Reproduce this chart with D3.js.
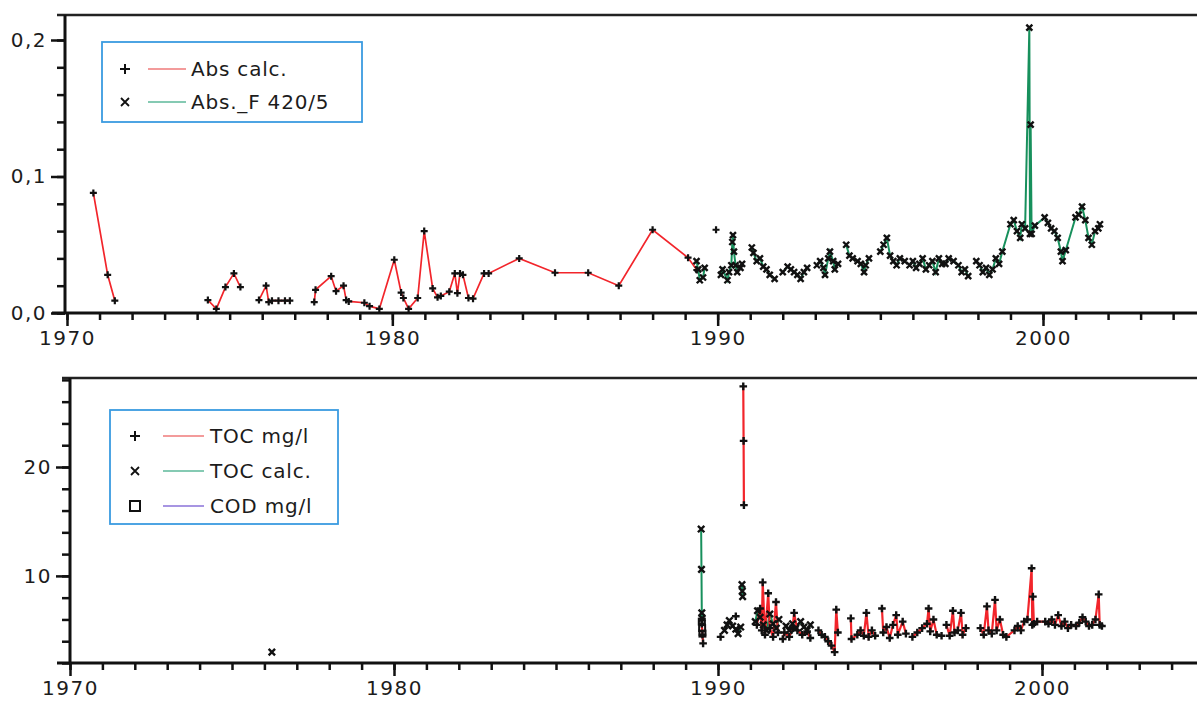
<!DOCTYPE html>
<html>
<head>
<meta charset="utf-8">
<script src="https://cdn.jsdelivr.net/npm/d3@7"></script>
<style>
  body { margin: 0; background: #fff; }
  text { font-family: "DejaVu Sans", sans-serif; fill: #1c1c1c; }
</style>
</head>
<body>
<div id="chart"></div>
<script>
// ---- data (null = break in the line) ----
// upper panel: absorbance
const absCalcYears = [1970.81, 1971.25, 1971.47, null, 1974.33, 1974.59, 1974.87, 1975.13, 1975.33, null,
  1975.9, 1976.12, 1976.2, 1976.3, 1976.5, 1976.7, 1976.85, null,
  1977.6, 1977.64, 1978.12, 1978.27, 1978.5, 1978.58, 1978.66, 1979.14, 1979.3, 1979.6, 1980.06,
  1980.27, 1980.34, 1980.5, 1980.78, 1980.98, 1981.24, 1981.39, 1981.49, 1981.75, 1981.92, 1982.0,
  1982.08, 1982.17, 1982.34, 1982.48, 1982.82, 1982.96, 1983.9, 1985.0, 1986.02, 1986.96, 1988.0,
  1989.09, 1989.36, null, 1989.95];
const absCalcValues = [0.088, 0.028, 0.009, null, 0.0095, 0.003, 0.019, 0.029, 0.019, null,
  0.0095, 0.02, 0.008, 0.009, 0.009, 0.009, 0.009, null,
  0.008, 0.017, 0.027, 0.016, 0.02, 0.0095, 0.0085, 0.0075, 0.005, 0.003, 0.039,
  0.015, 0.011, 0.003, 0.011, 0.060, 0.018, 0.0115, 0.0125, 0.0156, 0.029, 0.0145,
  0.029, 0.028, 0.011, 0.0105, 0.029, 0.029, 0.040, 0.0295, 0.0295, 0.020, 0.061,
  0.0405, 0.0315, null, 0.061];

const absFYears = [1989.35, 1989.4, 1989.45, 1989.55, 1989.6, null,
  1990.1, 1990.15, 1990.3, 1990.35, 1990.42, 1990.45, 1990.47, 1990.5, 1990.55, 1990.6, 1990.7, 1990.75, null,
  1991.05, 1991.1, 1991.2, 1991.3, 1991.4, 1991.5, 1991.6, 1991.75, null,
  1992.0, 1992.15, 1992.25, 1992.35, 1992.45, 1992.55, 1992.65, 1992.75, null,
  1993.05, 1993.15, 1993.25, 1993.3, 1993.4, 1993.45, 1993.55, 1993.6, 1993.7, null,
  1993.95, 1994.05, 1994.15, 1994.3, 1994.4, 1994.5, 1994.55, 1994.65, null,
  1995.0, 1995.1, 1995.2, 1995.3, 1995.4, 1995.5, 1995.6, 1995.75, null,
  1995.9, 1996.0, 1996.1, 1996.2, 1996.3, 1996.4, 1996.5, 1996.6, 1996.7, 1996.8, 1996.9, null,
  1997.0, 1997.1, 1997.25, 1997.4, 1997.5, 1997.6, 1997.7, null,
  1997.95, 1998.05, 1998.15, 1998.25, 1998.35, 1998.45, 1998.55, 1998.65, 1998.75,
  1999.0, 1999.1, 1999.2, 1999.3, 1999.35, 1999.45, 1999.58, 1999.6, 1999.62, 1999.65, 1999.75,
  2000.05, 2000.15, 2000.25, 2000.35, 2000.45, 2000.55, 2000.6, 2000.7,
  2001.0, 2001.1, 2001.2, 2001.3, 2001.4, 2001.5, 2001.6, 2001.7, 2001.75];
const absFValues = [0.038, 0.032, 0.024, 0.026, 0.033, null,
  0.028, 0.032, 0.024, 0.03, 0.035, 0.052, 0.057, 0.045, 0.035, 0.03, 0.033, 0.036, null,
  0.048, 0.044, 0.038, 0.04, 0.034, 0.032, 0.028, 0.025, null,
  0.03, 0.034, 0.032, 0.03, 0.028, 0.025, 0.03, 0.033, null,
  0.035, 0.038, 0.033, 0.028, 0.04, 0.045, 0.038, 0.032, 0.036, null,
  0.05, 0.042, 0.04, 0.038, 0.036, 0.03, 0.035, 0.04, null,
  0.045, 0.05, 0.055, 0.042, 0.038, 0.035, 0.04, 0.038, null,
  0.035, 0.038, 0.033, 0.036, 0.04, 0.032, 0.035, 0.038, 0.03, 0.04, 0.036, null,
  0.036, 0.04, 0.038, 0.035, 0.03, 0.032, 0.027, null,
  0.038, 0.035, 0.03, 0.033, 0.028, 0.032, 0.04, 0.036, 0.045,
  0.065, 0.068, 0.06, 0.055, 0.065, 0.062, 0.209, 0.058, 0.138, 0.058, 0.064,
  0.07, 0.066, 0.062, 0.06, 0.055, 0.045, 0.038, 0.046,
  0.07, 0.072, 0.078, 0.068, 0.055, 0.05, 0.06, 0.062, 0.065];

// lower panel: organic carbon
const tocYears = [1989.5, 1989.52, 1989.54, null, 1990.08, null, 1990.55, null,
  1990.78, 1990.79, 1990.8, null,
  1991.2, 1991.3, 1991.35, 1991.38, 1991.45, 1991.55, 1991.6, 1991.7, 1991.79, 1991.85, null,
  1992.0, 1992.05, 1992.2, 1992.3, 1992.35, 1992.45, 1992.6, 1992.75, 1992.85, null,
  1993.1, 1993.2, 1993.3, 1993.4, 1993.5, 1993.6, 1993.65, 1993.7, null,
  1994.1, 1994.12, 1994.3, 1994.4, 1994.5, 1994.58, 1994.65, 1994.75, 1994.85, null,
  1995.06, 1995.1, 1995.2, 1995.3, 1995.4, 1995.5, 1995.55, 1995.7, 1995.8, null,
  1996.0, 1996.15, 1996.3, 1996.45, 1996.5, 1996.55, 1996.65, 1996.75, 1996.9, null,
  1997.05, 1997.15, 1997.25, 1997.3, 1997.4, 1997.5, 1997.55, 1997.65, null,
  1998.1, 1998.2, 1998.3, 1998.35, 1998.45, 1998.55, 1998.6, 1998.7, 1998.8, 1998.9,
  1999.15, 1999.25, 1999.35, 1999.45, 1999.55, 1999.68, 1999.7, 1999.72, 1999.75, 1999.85,
  2000.1, 2000.2, 2000.3, 2000.4, 2000.5, 2000.6, 2000.7, 2000.8, 2000.9,
  2001.05, 2001.15, 2001.25, 2001.35, 2001.45, 2001.55, 2001.65, 2001.75, 2001.78, 2001.85];
const tocValues = [5.6, 4.6, 3.8, null, 4.4, null, 6.3, null,
  27.4, 22.4, 16.5, null,
  5.5, 7.0, 5.0, 9.4, 4.6, 8.4, 5.2, 4.4, 7.6, 4.8, null,
  4.2, 4.8, 4.4, 5.2, 6.6, 5.0, 4.6, 4.9, 4.3, null,
  5.0, 4.6, 4.4, 4.0, 3.6, 3.0, 6.9, 4.8, null,
  6.1, 4.2, 4.6, 5.0, 4.5, 6.6, 4.4, 5.0, 4.5, null,
  7.0, 4.8, 5.3, 4.3, 5.5, 6.4, 4.6, 5.8, 4.7, null,
  4.4, 4.8, 5.2, 5.6, 7.0, 4.9, 6.0, 4.6, 4.5, null,
  5.5, 4.5, 6.8, 4.8, 5.0, 6.6, 4.6, 5.2, null,
  5.2, 4.6, 7.2, 5.0, 4.7, 7.8, 5.0, 6.0, 4.6, 4.4,
  5.0, 5.4, 5.0, 5.8, 6.0, 10.7, 5.5, 8.1, 5.6, 5.8,
  5.8, 5.6, 6.0, 5.5, 6.4, 5.4, 5.8, 5.2, 5.5,
  5.4, 5.7, 6.2, 5.8, 5.4, 5.5, 6.0, 8.3, 5.5, 5.4];

const tocCalcYears = [1976.23, null, 1989.48, 1989.49, 1989.5, 1989.51, null,
  1990.2, 1990.28, 1990.35, 1990.45, 1990.55, 1990.62, 1990.7, null,
  1990.74, 1990.75, 1990.76, null,
  1991.15, 1991.22, 1991.3, 1991.4, 1991.5, 1991.6, 1991.7, 1991.8, 1991.88, null,
  1992.1, 1992.2, 1992.3, 1992.4, 1992.55, 1992.65, 1992.75, 1992.85];
const tocCalcValues = [3.0, null, 14.3, 10.6, 6.6, 6.1, null,
  5.0, 5.5, 5.9, 5.4, 5.1, 4.7, 5.3, null,
  9.2, 8.6, 8.1, null,
  5.8, 6.8, 6.2, 5.5, 5.0, 6.5, 5.6, 5.2, 6.0, null,
  5.4, 5.0, 5.6, 5.2, 5.8, 5.3, 5.0, 5.5];

const codYears = [1989.5, 1989.51, 1989.52];
const codValues = [5.8, 5.2, 4.7];

const topMajor = [0, 0.1, 0.2];
const bottomMajor = [10, 20];
const yearLabels = [1970, 1980, 1990, 2000];

// ---- layout ----
const W = 1197, H = 701;
const svg = d3.select("#chart").append("svg")
  .attr("width", W).attr("height", H);

const red = "#f2252b", green = "#17905c", purple = "#7a62c8";

function pts(ys, vs) { return ys.map((t, i) => ({ t: t, v: vs[i] })); }

function marker(g, data, x, y, type, s, sw) {
  const d = data.filter(p => p.v != null);
  if (type === "square") {
    g.selectAll(null).data(d).enter().append("rect")
      .attr("x", p => x(p.t) - s).attr("y", p => y(p.v) - s)
      .attr("width", 2 * s).attr("height", 2 * s)
      .attr("fill", "none").attr("stroke", "#111").attr("stroke-width", sw);
    return;
  }
  g.selectAll(null).data(d).enter().append("path")
    .attr("d", p => {
      const cx = x(p.t), cy = y(p.v);
      return type === "plus"
        ? `M${cx - s},${cy}H${cx + s}M${cx},${cy - s}V${cy + s}`
        : `M${cx - s},${cy - s}L${cx + s},${cy + s}M${cx - s},${cy + s}L${cx + s},${cy - s}`;
    })
    .attr("stroke", "#111").attr("stroke-width", sw).attr("fill", "none");
}

function series(g, data, x, y, color, width) {
  g.append("path").datum(data)
    .attr("fill", "none").attr("stroke", color).attr("stroke-width", width)
    .attr("d", d3.line().defined(p => p.v != null).x(p => x(p.t)).y(p => y(p.v)));
}

function frame(cfg) {
  const g = svg.append("g");
  // border lines
  g.append("line").attr("x1", cfg.left - 8).attr("x2", W).attr("y1", cfg.top).attr("y2", cfg.top)
    .attr("stroke", "#222").attr("stroke-width", 2.5);
  g.append("line").attr("x1", cfg.left - 13).attr("x2", W).attr("y1", cfg.bottom).attr("y2", cfg.bottom)
    .attr("stroke", "#111").attr("stroke-width", 3);
  g.append("line").attr("x1", cfg.axisX).attr("x2", cfg.axisX).attr("y1", cfg.top).attr("y2", cfg.bottom)
    .attr("stroke", "#111").attr("stroke-width", 3);

  // y ticks
  g.append("g").attr("transform", `translate(${cfg.axisX},0)`)
    .call(d3.axisLeft(cfg.y).tickValues(cfg.yMinor).tickSize(8).tickFormat(""))
    .call(a => a.select(".domain").remove())
    .call(a => a.selectAll("line").attr("stroke", "#111").attr("stroke-width", 2.5));
  g.append("g").attr("transform", `translate(${cfg.axisX},0)`)
    .call(d3.axisLeft(cfg.y).tickValues(cfg.yMajor).tickSize(14).tickPadding(4).tickFormat(cfg.yFmt))
    .call(a => a.select(".domain").remove())
    .call(a => a.selectAll("line").attr("stroke", "#111").attr("stroke-width", 2.5))
    .call(a => a.selectAll("text").attr("font-family", '"DejaVu Sans", sans-serif')
      .attr("font-size", 20).attr("letter-spacing", 1.5).attr("fill", "#1c1c1c"));

  // x ticks
  g.append("g").attr("transform", `translate(0,${cfg.bottom})`)
    .call(d3.axisBottom(cfg.x).tickValues(d3.range(1970, 2005)).tickSize(7).tickFormat(""))
    .call(a => a.select(".domain").remove())
    .call(a => a.selectAll("line").attr("stroke", "#111").attr("stroke-width", 2.5));
  g.append("g").attr("transform", `translate(0,${cfg.bottom})`)
    .call(d3.axisBottom(cfg.x).tickValues(yearLabels).tickSize(13).tickPadding(5).tickFormat(d3.format("d")))
    .call(a => a.select(".domain").remove())
    .call(a => a.selectAll("line").attr("stroke", "#111").attr("stroke-width", 2.5))
    .call(a => a.selectAll("text").attr("font-family", '"DejaVu Sans", sans-serif')
      .attr("font-size", 20).attr("letter-spacing", 1.5).attr("fill", "#1c1c1c"));
  return g;
}

function legend(box, items) {
  const g = svg.append("g");
  g.append("rect").attr("x", box.x).attr("y", box.y).attr("width", box.w).attr("height", box.h)
    .attr("fill", "#fff").attr("stroke", "#3a9be0").attr("stroke-width", 1.8);
  items.forEach((it, i) => {
    const cy = box.y + box.first + i * box.step;
    const sx = box.x + box.sym;
    if (it.sym === "plus") {
      g.append("path").attr("d", `M${sx - 5},${cy}H${sx + 5}M${sx},${cy - 5}V${cy + 5}`)
        .attr("stroke", "#111").attr("stroke-width", 2);
    } else if (it.sym === "cross") {
      g.append("path").attr("d", `M${sx - 4},${cy - 4}L${sx + 4},${cy + 4}M${sx - 4},${cy + 4}L${sx + 4},${cy - 4}`)
        .attr("stroke", "#111").attr("stroke-width", 1.8);
    } else {
      g.append("rect").attr("x", sx - 5).attr("y", cy - 5).attr("width", 10).attr("height", 10)
        .attr("fill", "none").attr("stroke", "#111").attr("stroke-width", 2);
    }
    g.append("line").attr("x1", box.x + box.l1).attr("x2", box.x + box.l2).attr("y1", cy).attr("y2", cy)
      .attr("stroke", it.color).attr("stroke-width", 1.6);
    g.append("text").attr("x", box.x + box.tx).attr("y", cy + 7)
      .attr("font-size", 20).attr("letter-spacing", 0.8).text(it.label);
  });
}

// ---- upper panel ----
const xTop = d3.scaleLinear().domain([1970, 2000]).range([67, 1043]);
const yTop = d3.scaleLinear().domain([0, 0.2]).range([313, 40]);

frame({ x: xTop, y: yTop, left: 65, axisX: 65, top: 15, bottom: 313,
  yMinor: d3.range(0, 0.2001, 0.02), yMajor: topMajor,
  yFmt: d => d3.format(".1f")(d).replace(".", ",") });

const absCalc = pts(absCalcYears, absCalcValues);
const absF = pts(absFYears, absFValues);
const gTop = svg.append("g");
series(gTop, absCalc, xTop, yTop, red, 1.7);
series(gTop, absF, xTop, yTop, green, 2);
marker(gTop, absF, xTop, yTop, "cross", 3, 2.4);
marker(gTop, absCalc, xTop, yTop, "plus", 3.5, 2.2);

legend({ x: 102, y: 42, w: 260, h: 80, first: 27, step: 33, sym: 23, l1: 46, l2: 84, tx: 89 }, [
  { sym: "plus", color: "#ef7a7a", label: "Abs calc." },
  { sym: "cross", color: "#5cb89a", label: "Abs._F 420/5" }
]);

// ---- lower panel ----
const xBot = d3.scaleLinear().domain([1970, 2000]).range([70, 1042]);
const yBot = d3.scaleLinear().domain([2, 20]).range([663, 467]);

frame({ x: xBot, y: yBot, left: 70, axisX: 70, top: 378, bottom: 663,
  yMinor: d3.range(2, 28.1, 2), yMajor: bottomMajor, yFmt: d3.format("d") });

const toc = pts(tocYears, tocValues);
const tocCalc = pts(tocCalcYears, tocCalcValues);
const cod = pts(codYears, codValues);
const gBot = svg.append("g");
series(gBot, cod, xBot, yBot, purple, 1.5);
series(gBot, tocCalc, xBot, yBot, green, 2);
series(gBot, toc, xBot, yBot, red, 2.2);
marker(gBot, tocCalc, xBot, yBot, "cross", 3.2, 2.4);
marker(gBot, cod, xBot, yBot, "square", 3, 2);
marker(gBot, toc, xBot, yBot, "plus", 3.8, 2.4);

legend({ x: 110, y: 410, w: 228, h: 114, first: 26, step: 35, sym: 25, l1: 53, l2: 94, tx: 100 }, [
  { sym: "plus", color: "#ef7a7a", label: "TOC mg/l" },
  { sym: "cross", color: "#5cb89a", label: "TOC calc." },
  { sym: "square", color: "#8a72d8", label: "COD mg/l" }
]);
</script>
</body>
</html>
